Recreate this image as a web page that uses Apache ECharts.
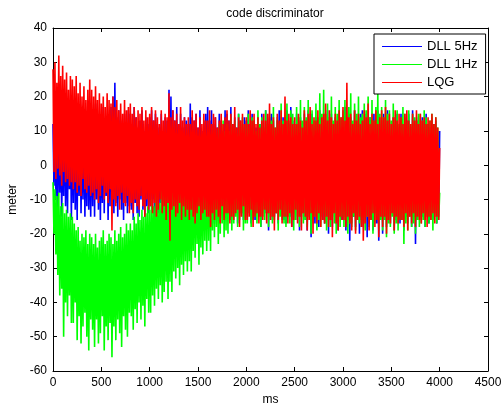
<!DOCTYPE html>
<html><head><meta charset="utf-8">
<script src="https://cdn.jsdelivr.net/npm/echarts@6/dist/echarts.min.js"></script>
<style>html,body{margin:0;padding:0;background:#fff}#c{width:502px;height:408px}</style>
</head><body><div id="c"></div>
<script>
const titleText = 'code discriminator';
const xLabel = 'ms';
const yLabel = 'meter';
const seriesNames = ['DLL 5Hz', 'DLL 1Hz', 'LQG'];
const seriesColors = ['#0000ff', '#00ff00', '#ff0000'];
const sampleStartMs = 0;
const sampleStepMs = 10;

// DLL 5Hz (values read approx from the picture, one sample every 10 ms)
const dll5 = [
 12,-6,16,-10,9,-13,18,-8,14,-15,11,-9,17,-12,8,-14,15,-7,13,-16,
 15,-11,19,-13,10,-16,17,-9,14,-14,12,-10,16,-15,11,-12,18,-13,9,-15,
 13,-12,16,-15,18,-10,12,-13,15,-16,10,-11,17,-14,13,-9,14,-16,11,-12,
 17,-12,20,-14,24,-11,14,-15,16,-10,13,-13,12,-16,15,-11,9,-14,16,-12,
 15,-13,12,-16,17,-11,14,-14,11,-15,13,-10,16,-13,10,-15,14,-12,12,-14,
 14,-12,16,-10,13,-15,15,-12,12,-14,11,-11,15,-13,10,-12,14,-15,13,-11,
 22,-13,20,-11,16,-15,13,-12,17,-14,12,-10,15,-13,11,-16,14,-12,13,-14,
 12,-14,18,-12,14,-16,13,-11,15,-13,11,-15,16,-12,10,-14,13,-17,15,-12,
 17,-15,13,-12,16,-14,12,-17,14,-13,11,-15,15,-16,13,-12,10,-14,16,-13,
 15,-12,13,-16,17,-14,12,-15,14,-13,11,-17,15,-12,13,-14,10,-16,14,-13,
 13,-15,16,-12,12,-17,15,-14,13,-16,11,-13,14,-15,12,-18,15,-12,10,-14,
 16,-14,12,-19,14,-13,15,-16,13,-15,10,-14,13,-17,16,-12,11,-15,14,-16,
 14,-17,16,-13,12,-15,17,-18,13,-14,11,-16,15,-13,12,-19,14,-15,10,-14,
 15,-16,13,-19,16,-14,12,-21,15,-15,11,-17,14,-13,13,-18,16,-15,12,-16,
 14,-17,12,-15,16,-20,13,-16,15,-18,11,-14,14,-17,12,-19,15,-15,13,-16,
 13,-15,17,-19,12,-16,15,-22,14,-17,11,-15,16,-18,13,-14,12,-20,15,-16,
 16,-18,13,-15,15,-21,12,-17,14,-16,11,-19,15,-14,13,-17,16,-22,12,-15,
 13,-20,15,-16,12,-18,16,-15,13,-17,10,-14,14,-19,12,-16,15,-15,11,-17,
 15,-16,12,-19,14,-15,13,-17,15,-14,11,-18,16,-15,12,-23,14,-16,13,-15,
 12,-16,14,-15,13,-18,15,-14,12,-17,11,-15,14,-16,12,-14,13,-17,10,-15,
 10
];
// DLL 1Hz
const dll1 = [
 -5,-20,-7,-26,-9,-32,-8,-38,-12,-36,-11,-50,-14,-40,-13,-44,-15,-38,-14,-46,
 -15,-46,-17,-40,-19,-51,-18,-44,-22,-52,-20,-47,-21,-43,-19,-50,-23,-54,-20,-45,
 -21,-48,-23,-53,-20,-45,-24,-52,-22,-49,-21,-44,-19,-54,-23,-47,-22,-51,-20,-46,
 -21,-56,-23,-47,-19,-51,-22,-45,-20,-49,-18,-53,-21,-44,-20,-48,-17,-50,-19,-43,
 -17,-44,-19,-48,-15,-42,-17,-46,-14,-40,-16,-45,-13,-41,-15,-47,-14,-39,-12,-43,
 -13,-43,-10,-38,-12,-41,-8,-36,-9,-39,-11,-35,-7,-40,-9,-37,-6,-34,-8,-39,
 -6,-34,-4,-37,-5,-31,-2,-33,-3,-30,-4,-35,-1,-29,-3,-32,0,-28,-2,-31,
 0,-28,3,-31,1,-25,5,-27,4,-23,2,-29,6,-24,3,-26,7,-22,4,-25,
 7,-22,9,-25,6,-19,11,-21,10,-18,8,-23,12,-20,9,-17,13,-21,10,-19,
 12,-20,10,-16,14,-19,11,-17,13,-15,9,-18,15,-16,12,-14,14,-19,11,-17,
 12,-17,15,-14,11,-18,14,-16,13,-15,10,-17,16,-13,12,-18,14,-15,11,-16,
 16,-14,12,-18,15,-15,13,-17,17,-16,11,-14,14,-19,12,-15,18,-16,13,-17,
 14,-18,18,-15,13,-17,16,-14,15,-19,12,-16,17,-15,14,-18,19,-14,13,-17,
 17,-16,14,-18,19,-15,15,-20,16,-17,13,-15,18,-19,14,-16,21,-18,15,-14,
 22,-17,15,-19,18,-16,14,-18,20,-15,13,-17,17,-20,15,-16,19,-18,14,-15,
 16,-18,19,-16,14,-20,17,-17,21,-18,13,-15,18,-19,15,-16,20,-17,14,-18,
 15,-17,18,-19,16,-15,20,-18,14,-16,19,-20,13,-17,17,-15,22,-19,15,-16,
 17,-19,14,-16,19,-21,15,-17,16,-18,13,-15,18,-20,14,-17,16,-19,12,-16,
 14,-16,17,-23,15,-17,13,-19,16,-15,12,-18,15,-17,14,-20,13,-16,15,-18,
 15,-17,13,-16,16,-18,14,-15,12,-17,13,-16,15,-19,12,-15,14,-17,11,-16,
 -8
];
// LQG
const lqg = [
 28,-2,30,-4,24,-1,32,-3,26,-6,29,-2,25,-5,27,-4,22,-6,26,-5,
 25,-7,23,-5,26,-8,21,-6,24,-9,20,-4,23,-7,19,-8,22,-6,25,-9,
 22,-8,20,-10,23,-7,19,-11,21,-9,18,-6,20,-10,17,-8,21,-11,19,-7,
 18,-19,20,-10,17,-12,19,-9,16,-13,18,-8,15,-11,19,-12,16,-9,17,-14,
 18,-11,15,-14,17,-10,14,-12,16,-13,15,-9,17,-12,13,-15,16,-10,14,-13,
 15,-12,17,-14,13,-11,16,-15,14,-13,12,-10,16,-14,13,-12,15,-16,14,-11,
 21,-22,14,-13,16,-12,13,-15,15,-14,12,-11,17,-16,13,-12,14,-15,12,-13,
 14,-16,12,-13,16,-15,13,-17,15,-14,11,-12,14,-16,12,-14,15,-13,13,-15,
 13,-15,16,-18,12,-14,15,-16,14,-13,11,-15,13,-17,15,-12,12,-16,14,-14,
 16,-14,13,-17,15,-15,12,-16,17,-14,11,-13,14,-18,13,-15,15,-12,12,-16,
 14,-16,12,-15,16,-13,13,-18,15,-15,12,-14,14,-17,11,-15,13,-16,15,-13,
 13,-17,15,-14,18,-16,12,-15,14,-19,11,-14,15,-16,13,-13,16,-17,12,-15,
 20,-15,13,-17,15,-14,14,-18,12,-16,14,-13,12,-17,15,-15,13,-19,11,-14,
 16,-15,13,-19,15,-16,17,-14,12,-20,14,-15,13,-17,16,-14,12,-18,14,-16,
 15,-17,18,-15,13,-18,16,-16,14,-21,12,-14,15,-17,13,-19,16,-15,14,-16,
 17,-16,13,-18,24,-15,14,-17,15,-19,12,-14,16,-20,13,-16,15,-15,12,-18,
 13,-22,16,-17,14,-15,18,-19,12,-16,15,-14,13,-18,16,-16,12,-21,14,-15,
 16,-18,14,-15,17,-20,13,-16,15,-17,12,-14,14,-19,16,-15,13,-17,15,-16,
 14,-16,12,-18,15,-14,16,-19,13,-15,12,-17,15,-14,13,-18,16,-15,12,-16,
 15,-17,13,-14,14,-16,12,-18,14,-15,13,-16,15,-14,12,-17,14,-15,11,-16,
 5
];

const xTicks = {min: 0, max: 4500, interval: 500};
const yTicks = {min: -60, max: 40, interval: 10};

function pairs(arr){ return arr.map((v,i)=>[sampleStartMs + i*sampleStepMs, v]); }

const font = 'Liberation Sans, Arial, Helvetica, sans-serif';
const chart = echarts.init(document.getElementById('c'), null, {renderer:'canvas'});
const axisCommon = {
  axisLine:{show:true, onZero:false, lineStyle:{color:'#000', width:1}},
  axisTick:{show:true, inside:true, length:4, lineStyle:{color:'#000'}},
  splitLine:{show:false}
};
chart.setOption({
  animation:false,
  backgroundColor:'#fff',
  title:{text:titleText, left:270, top:3, textAlign:'center',
    textStyle:{fontFamily:font, fontSize:12, fontWeight:'normal', color:'#000'}},
  grid:{left:53, right:14, top:28, bottom:37, containLabel:false, outerBoundsMode:'none'},
  legend:{
    data:seriesNames, orient:'vertical', left:374, top:34,
    backgroundColor:'#fff', borderColor:'#000', borderWidth:1, borderRadius:0,
    padding:[6,8,5,8], itemGap:5, itemWidth:40, itemHeight:14,
    textStyle:{fontFamily:font, fontSize:13, color:'#000'},
    icon:'path://M0,7L40,7L40,8L0,8Z'
  },
  xAxis:[
    Object.assign({type:'value', position:'bottom', min:xTicks.min, max:xTicks.max, interval:xTicks.interval,
      name:xLabel, nameLocation:'middle', nameGap:22,
      nameTextStyle:{fontFamily:font, fontSize:12, color:'#000'},
      axisLabel:{fontFamily:font, fontSize:12, color:'#000', margin:6, formatter:v=>String(v)}}, axisCommon),
    Object.assign({type:'value', position:'top', min:xTicks.min, max:xTicks.max, interval:xTicks.interval,
      axisLabel:{show:false}}, axisCommon)
  ],
  yAxis:[
    Object.assign({type:'value', position:'left', min:yTicks.min, max:yTicks.max, interval:yTicks.interval,
      name:yLabel, nameLocation:'middle', nameGap:30, nameRotate:90,
      nameTextStyle:{fontFamily:font, fontSize:12, color:'#000'},
      axisLabel:{fontFamily:font, fontSize:12, color:'#000', margin:6, formatter:v=>String(v)}}, axisCommon),
    Object.assign({type:'value', position:'right', min:yTicks.min, max:yTicks.max, interval:yTicks.interval,
      axisLabel:{show:false}}, axisCommon)
  ],
  series:[dll5, dll1, lqg].map((arr,i)=>({
    name:seriesNames[i], type:'line', data:pairs(arr), symbol:'none', showSymbol:false,
    sampling:null, lineStyle:{color:seriesColors[i], width:1.6}, itemStyle:{color:seriesColors[i]},
    emphasis:{disabled:true}, z:2+i
  }))
});
</script></body></html>
